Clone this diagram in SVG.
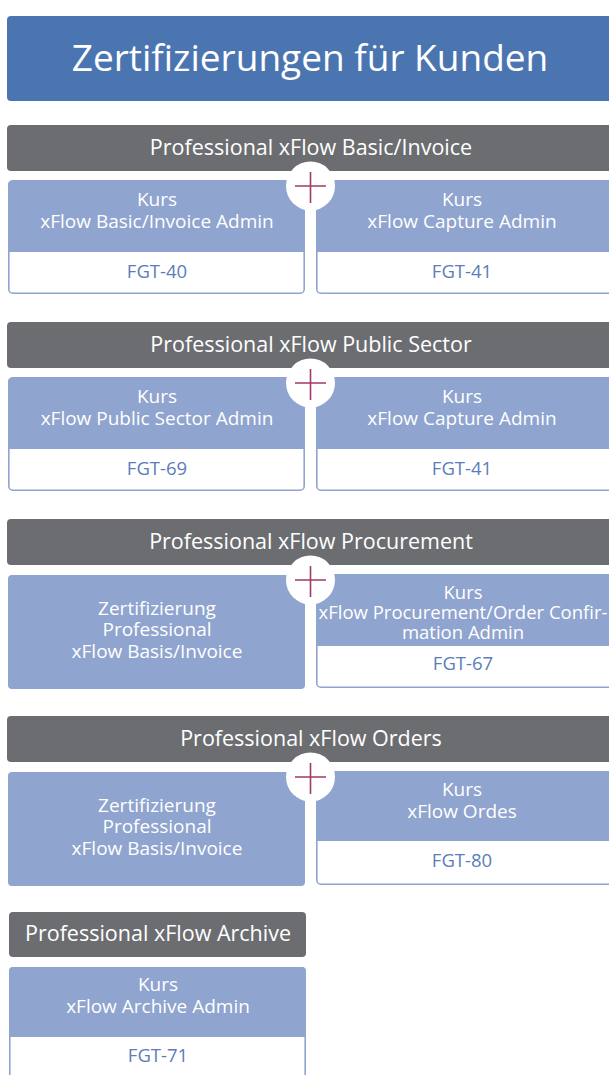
<svg xmlns="http://www.w3.org/2000/svg" width="609" height="1075" viewBox="0 0 609 1075">
<style>
text{font-family:"Open Sans","Noto Sans","DejaVu Sans",sans-serif;text-anchor:middle}
.title{fill:#4b75b1}
.hdr{fill:#6c6d71}
.hdrt{fill:#ffffff;font-size:21.5px}
.top{fill:#8fa4ce}
.card{fill:#ffffff;stroke:#8fa4ce;stroke-width:1.6}
.ct{fill:#ffffff;font-size:19px}
.ctn{fill:#ffffff;font-size:18.5px}
.code{fill:#5b7dbb;font-size:18.5px}
.plus{fill:#ffffff}
.cross{stroke:#a3386a;stroke-width:1.6;fill:none}
</style>
<defs>
<g id="plusg">
<rect class="plus" x="-4" y="0" width="8" height="100"/>
<circle class="plus" cx="0" cy="0" r="24.5"/>
<path class="cross" d="M-15.5 0H15.5M0 -14V17"/>
</g>
</defs>

<g id="title">
<rect class="title" x="7" y="16" width="612" height="85" rx="4"/>
<text x="310" y="71" style="fill:#fff;font-size:37px">Zertifizierungen für Kunden</text>
</g>

<!-- Group 1 -->
<g id="hdr1">
<rect class="hdr" x="7" y="125" width="612" height="46" rx="4"/>
<text class="hdrt" x="311" y="155">Professional xFlow Basic/Invoice</text>
</g>
<g id="card1a">
<rect class="card" x="8.8" y="180.8" width="295.4" height="112.4" rx="4"/>
<path class="top" d="M8 252V185a4 4 0 0 1 4-4H301a4 4 0 0 1 4 4V252Z"/>
<text class="ct" x="157" y="206">Kurs</text>
<text class="ct" x="157" y="228">xFlow Basic/Invoice Admin</text>
<text class="code" x="157" y="278">FGT-40</text>
</g>
<g id="card1b">
<rect class="card" x="316.8" y="180.8" width="302" height="112.4" rx="4"/>
<path class="top" d="M316 252V185a4 4 0 0 1 4-4H619V252Z"/>
<text class="ct" x="462" y="206">Kurs</text>
<text class="ct" x="462" y="228">xFlow Capture Admin</text>
<text class="code" x="462" y="278">FGT-41</text>
</g>

<!-- Group 2 -->
<g id="hdr2">
<rect class="hdr" x="7" y="322" width="612" height="46" rx="4"/>
<text class="hdrt" x="311" y="352">Professional xFlow Public Sector</text>
</g>
<g id="card2a">
<rect class="card" x="8.8" y="377.8" width="295.4" height="112.4" rx="4"/>
<path class="top" d="M8 449V382a4 4 0 0 1 4-4H301a4 4 0 0 1 4 4V449Z"/>
<text class="ct" x="157" y="403">Kurs</text>
<text class="ct" x="157" y="425">xFlow Public Sector Admin</text>
<text class="code" x="157" y="475">FGT-69</text>
</g>
<g id="card2b">
<rect class="card" x="316.8" y="377.8" width="302" height="112.4" rx="4"/>
<path class="top" d="M316 449V382a4 4 0 0 1 4-4H619V449Z"/>
<text class="ct" x="462" y="403">Kurs</text>
<text class="ct" x="462" y="425">xFlow Capture Admin</text>
<text class="code" x="462" y="475">FGT-41</text>
</g>

<!-- Group 3 -->
<g id="hdr3">
<rect class="hdr" x="7" y="519" width="612" height="46" rx="4"/>
<text class="hdrt" x="311" y="549">Professional xFlow Procurement</text>
</g>
<g id="card3a">
<rect class="top" x="8" y="575" width="297" height="114" rx="4"/>
<text class="ct" x="157" y="615">Zertifizierung</text>
<text class="ct" x="157" y="636">Professional</text>
<text class="ct" x="157" y="658">xFlow Basis/Invoice</text>
</g>
<g id="card3b">
<rect class="card" x="316.8" y="574.8" width="302" height="112.4" rx="4"/>
<path class="top" d="M316 646V579a4 4 0 0 1 4-4H619V646Z"/>
<text class="ctn" x="463" y="599">Kurs</text>
<text class="ctn" x="463" y="619">xFlow Procurement/Order Confir-</text>
<text class="ctn" x="463" y="639">mation Admin</text>
<text class="code" x="463" y="670">FGT-67</text>
</g>

<!-- Group 4 -->
<g id="hdr4">
<rect class="hdr" x="7" y="716" width="612" height="46" rx="4"/>
<text class="hdrt" x="311" y="746">Professional xFlow Orders</text>
</g>
<g id="card4a">
<rect class="top" x="8" y="772" width="297" height="114" rx="4"/>
<text class="ct" x="157" y="812">Zertifizierung</text>
<text class="ct" x="157" y="833">Professional</text>
<text class="ct" x="157" y="855">xFlow Basis/Invoice</text>
</g>
<g id="card4b">
<rect class="card" x="316.8" y="771.8" width="302" height="112.4" rx="4"/>
<path class="top" d="M316 841V776a4 4 0 0 1 4-4H619V841Z"/>
<text class="ct" x="462" y="796">Kurs</text>
<text class="ct" x="462" y="818">xFlow Ordes</text>
<text class="code" x="462" y="867">FGT-80</text>
</g>

<!-- Group 5 -->
<g id="hdr5">
<rect class="hdr" x="9" y="912" width="297" height="45" rx="4"/>
<text class="hdrt" x="158" y="941">Professional xFlow Archive</text>
</g>
<g id="card5">
<rect class="card" x="9.8" y="967.8" width="295.4" height="120" rx="4"/>
<path class="top" d="M9 1037V971a4 4 0 0 1 4-4H302a4 4 0 0 1 4 4V1037Z"/>
<text class="ct" x="158" y="991">Kurs</text>
<text class="ct" x="158" y="1013">xFlow Archive Admin</text>
<text class="code" x="158" y="1062">FGT-71</text>
</g>

<g id="connectors">
<use href="#plusg" x="310.5" y="186"/>
<use href="#plusg" x="310.5" y="383"/>
<use href="#plusg" x="310.5" y="580"/>
<use href="#plusg" x="310.5" y="777"/>
</g>
</svg>
